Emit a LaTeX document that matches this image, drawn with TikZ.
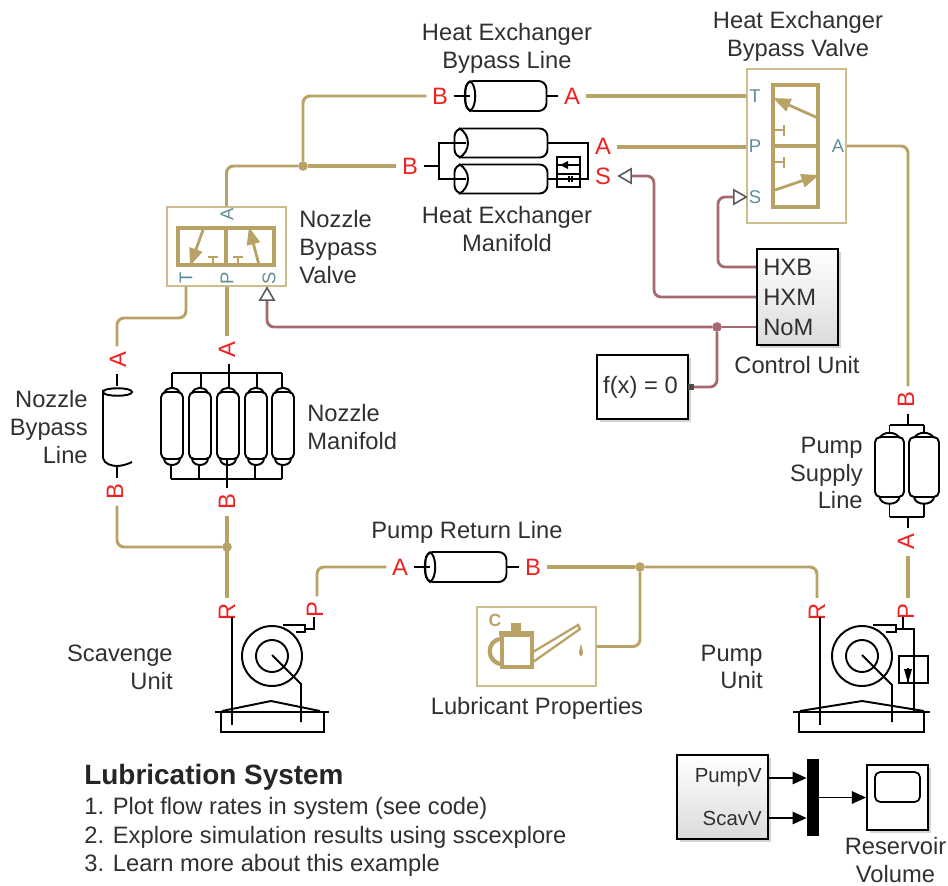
\documentclass[tikz,border=0pt]{standalone}
\usepackage{fontspec}
\setmainfont{Liberation Sans}
\usetikzlibrary{arrows.meta,shapes.geometric,shadows,calc}
\definecolor{oilgold}{HTML}{B8A265}
\definecolor{boxgold}{HTML}{CDBD8C}
\definecolor{sigred}{HTML}{A5696F}
\definecolor{portred}{HTML}{EE2222}
\definecolor{portteal}{HTML}{5F8E98}
\definecolor{txtgray}{HTML}{303030}
\newcommand{\lblfont}{\fontsize{13.5}{15.8}\selectfont}
\tikzset{
  oil/.style={draw=oilgold, line width=1.7pt, rounded corners=4pt},
  oilstr/.style={draw=oilgold, line width=1.95pt},
  sig/.style={draw=sigred, line width=1.6pt, rounded corners=4pt},
  wire/.style={draw=black, line width=1.1pt},
  lbl/.style={font=\lblfont, text=txtgray, inner sep=0pt},
  port/.style={font=\lblfont, text=portred, inner sep=3pt},
  vport/.style={font=\fontsize{10.5}{12}\selectfont, text=portteal, inner sep=0pt},
  pipe/.style={wire, rounded corners=3pt, inner sep=0pt},
  hpipe/.style={wire, rounded corners=4.5pt, inner sep=0pt},
  vbox/.style={draw=boxgold, line width=1pt, inner sep=0pt},
  vline/.style={draw=oilgold, line width=1.95pt},
  vstop/.style={draw=oilgold, line width=1.3pt},
  vhead/.style={draw=oilgold, line width=1.6pt, -{Triangle[length=10pt,width=7.5pt]}},
  sbox/.style={draw=black, line width=1.1pt, inner sep=0pt, drop shadow={shadow xshift=1.5pt, shadow yshift=-1.5pt, opacity=.35}},
  grad/.style={sbox, top color=white, bottom color=black!14},
  juncg/.style={circle, fill=oilgold, minimum size=5.5pt, inner sep=0pt},
  juncs/.style={circle, fill=sigred, minimum size=5.5pt, inner sep=0pt},
  inport/.style={draw=black!65, line width=.9pt, fill=white, isosceles triangle, isosceles triangle apex angle=60, minimum height=7pt, minimum width=8pt, inner sep=0pt},
}
\begin{document}
\begin{tikzpicture}[x=0.02cm, y=-0.02cm, >={Triangle[length=8pt,width=7pt]}]
  \useasboundingbox (0,0) rectangle (948,886);
  % Heat exchanger bypass line
  \node[port] (hxbB) at (440,96) {B};
  \node[port] (hxbA) at (572,96) {A};
  \node[hpipe, minimum width=1.62cm, minimum height=0.6cm] (hxb) at (506,96) {};
  \draw[wire] (470,81) .. controls (463,85) and (463,107) .. (470,111) .. controls (477,107) and (477,85) .. (470,81);
  \draw[wire] (hxbB.east) -- (470,96);
  \draw[wire] (hxbA.west) -- (hxb.east);
  \node[lbl, align=center] (hxbText) at (507,48) {Heat Exchanger\\Bypass Line};
  % Heat exchanger manifold
  \node[port] (hxmB) at (410,166) {B};
  \node[port] (hxmA) at (603,146) {A};
  \node[port] (hxmS) at (603,176) {S};
  \node[hpipe, minimum width=1.86cm, minimum height=0.58cm] (hxm1) at (501,143) {};
  \node[hpipe, minimum width=1.86cm, minimum height=0.58cm] (hxm2) at (501,179) {};
  \foreach \yy in {143,179}
    \draw[wire] (459,\yy-15) .. controls (471,\yy-8) and (471,\yy+8) .. (459,\yy+15);
  \coordinate (hxmBus) at (439,166);
  \draw[wire] (hxmB.east) -- (hxmBus);
  \draw[wire] (466,143) -- (439,143) -- (439,179) -- (466,179);
  \draw[wire] (hxm1.east) -- (hxm1.east -| hxmA.west);
  \draw[wire] (588,143) -- (588,179) -- (hxm2.east);
  \node[draw=black, line width=1pt, fill=white, minimum width=0.46cm, minimum height=0.6cm, inner sep=0pt] (hxmVal) at (568.5,172) {};
  \draw[wire] (hxmVal.west |- 0,165) -- (hxmVal.east |- 0,165);
  \draw[wire] (hxmVal.west |- 0,174) -- (hxmVal.east |- 0,174);
  \draw[wire] (hxmVal.west |- 0,179) -- (hxmVal.east |- 0,179);
  \fill (560,165) -- (568,161) -- (568,169) -- cycle;
  \draw[black, line width=.7pt] (569,176) -- (569,182) (572,176) -- (572,182);
  \node[lbl, align=center] (hxmText) at (507,229) {Heat Exchanger\\Manifold};
  \node[inport, shape border rotate=180] (hxmIn) at (627,176) {};
  % Heat exchanger bypass valve
  \node[vbox, minimum width=1.98cm, minimum height=3.08cm] (hxv) at (796.5,146) {};
  \node[vline, draw, minimum width=0.9cm, minimum height=2.44cm, inner sep=0pt] (hxvIn) at (795.5,146) {};
  \draw[vline] (hxvIn.west) -- (hxvIn.east);
  \draw[vhead] (818,118) -- (773,98);
  \draw[vhead] (775,190) -- (819,175);
  \draw[vstop] (775,130) -- (784,130) (784,125) -- (784,136);
  \draw[vstop] (775,162) -- (784,162) (784,157) -- (784,168);
  \node[vport] (hxvT) at (755,96) {T};
  \node[vport] (hxvP) at (755,146) {P};
  \node[vport] (hxvA) at (838,146) {A};
  \node[vport] (hxvS) at (755,197) {S};
  \node[inport] (hxvSin) at (738,197) {};
  \node[lbl, align=center] (hxvText) at (798,36) {Heat Exchanger\\Bypass Valve};
  % Nozzle bypass valve
  \node[vbox, minimum width=2.38cm, minimum height=1.58cm] (nbv) at (226.5,246.5) {};
  \node[vline, draw, minimum width=1.92cm, minimum height=0.74cm, inner sep=0pt] (nbvIn) at (226,246.5) {};
  \draw[vline] (nbvIn.north) -- (nbvIn.south);
  \draw[vhead] (203,230) -- (190,266);
  \draw[vhead] (259,265) -- (249,227);
  \draw[vstop] (213,265) -- (213,257) (208,257) -- (218,257);
  \draw[vstop] (238,265) -- (238,257) (233,257) -- (243,257);
  \node[vport, rotate=90] (nbvA) at (227,214) {A};
  \node[vport, rotate=90] (nbvT) at (186,278) {T};
  \node[vport, rotate=90] (nbvP) at (227,278) {P};
  \node[vport, rotate=90] (nbvS) at (269,278) {S};
  \node[inport, shape border rotate=90] (nbvSin) at (267,296) {};
  \node[lbl, align=left, anchor=west] (nbvText) at (299,247) {Nozzle\\Bypass\\Valve};
  % Nozzle bypass line
  \node[port, rotate=90] (nblA) at (118,360) {A};
  \node[port, rotate=90] (nblB) at (115,492) {B};
  \coordinate (nblTop) at (117,386);
  \coordinate (nblBot) at (117,466);
  \draw[wire] (nblA.west -| nblTop) -- (nblTop);
  \draw[wire] (nblB.east -| nblBot) -- (nblBot);
  \draw[wire] (103,392) .. controls (103,387) and (132,387) .. (132,392) .. controls (132,397) and (103,397) .. (103,392) -- (103,458) .. controls (104,464) and (112,466) .. (nblBot) .. controls (122,466) and (128,464) .. (132,462);
  \node[lbl, align=right, anchor=east] (nblText) at (88,427) {Nozzle\\Bypass\\Line};
  % Nozzle manifold
  \node[port, rotate=90] (nomA) at (227,350) {A};
  \node[port, rotate=90] (nomB) at (227,502) {B};
  \coordinate (nomTop) at (229,373);
  \coordinate (nomBot) at (227,479);
  \draw[wire] (nomA.west -| nomTop) -- (229,388);
  \draw[wire] (nomB.east) -- (227,460);
  \draw[wire] (172,373) -- (282,373);
  \draw[wire] (171,479) -- (282,479);
  \foreach \i/\xc/\xt/\xb in {1/172/172/171, 2/200/201/199, 3/228/229/227, 4/256/257/255, 5/283/282/282} {
    \node[pipe, minimum width=0.44cm, minimum height=1.34cm] (nom\i) at (\xc,425.5) {};
    \draw[wire] (\xc-8,393) .. controls (\xc-5,386) and (\xc+5,386) .. (\xc+8,393);
    \draw[wire] (\xt,373) -- (\xt,388);
    \draw[wire] (\xb,464) -- (\xb,479);
    \draw[wire] (\xc-8,459) .. controls (\xc-7,467) and (\xc+7,467) .. (\xc+8,459);
  }
  \node[lbl, align=left, anchor=west] (nomText) at (307,427) {Nozzle\\Manifold};
  % Pump return line
  \node[port] (prlA) at (400,567) {A};
  \node[port] (prlB) at (533,567) {B};
  \node[hpipe, minimum width=1.62cm, minimum height=0.6cm] (prl) at (466,567) {};
  \draw[wire] (430,552) .. controls (423,556) and (423,578) .. (430,582) .. controls (437,578) and (437,556) .. (430,552);
  \draw[wire] (prlA.east) -- (430,567);
  \draw[wire] (prlB.west) -- (prl.east);
  \node[lbl] (prlText) at (467,532) {Pump Return Line};
  % Scavenge unit
  \node[port, rotate=90] (scvR) at (227,612) {R};
  \node[port, rotate=90] (scvP) at (315,610) {P};
  \node[draw=black, line width=1.1pt, circle, minimum size=1.2cm, inner sep=0pt] (scvC) at (272,656) {};
  \node[draw=black, line width=1.1pt, circle, minimum size=0.64cm, inner sep=0pt] (scvI) at (272,656) {};
  \draw[wire] (232,617) -- (232,725);
  \draw[wire] (283,625) -- (305,625) -- (305,632) -- (296,632);
  \draw[wire] (305,629) -- (314,629) -- (314,617);
  \draw[wire] (272,655) -- (301,684) -- (301,722);
  \draw[wire] (215,712) -- (329,712);
  \draw[wire] (222,711) -- (271,701) -- (320,711);
  \draw[wire] (221,712) -- (221,732) -- (324,732) -- (324,712);
  \node[lbl, align=right, anchor=east] (scvText) at (173,667) {Scavenge\\Unit};
  % Pump unit
  \node[port, rotate=90] (pmpR) at (817,612) {R};
  \node[port, rotate=90] (pmpP) at (906,612) {P};
  \node[draw=black, line width=1.1pt, circle, minimum size=1.2cm, inner sep=0pt] (pmpC) at (862,656) {};
  \node[draw=black, line width=1.1pt, circle, minimum size=0.64cm, inner sep=0pt] (pmpI) at (862,656) {};
  \draw[wire] (820,617) -- (820,725);
  \draw[wire] (873,625) -- (896,625) -- (896,632) -- (886,632);
  \draw[wire] (896,629) -- (914,629) -- (914,712);
  \draw[wire] (903,629) -- (903,617);
  \draw[wire] (862,655) -- (892,685) -- (892,722);
  \node[draw=black, line width=1.1pt, fill=none, minimum width=0.58cm, minimum height=0.54cm, inner sep=0pt] (pmpVal) at (913.5,669.5) {};
  \draw[wire] (908,668) -- (908,683);
  \fill (904,669) -- (912,669) -- (908,683) -- cycle;
  \draw[wire] (793,712) -- (930,712);
  \draw[wire] (800,711) -- (862,701) -- (924,711);
  \draw[wire] (799,712) -- (799,732) -- (924,732) -- (924,712);
  \node[lbl, align=right, anchor=east] (pmpText) at (763,667) {Pump\\Unit};
  % Pump supply line
  \node[port, rotate=90] (pslB) at (906,400) {B};
  \node[port, rotate=90] (pslA) at (906,542) {A};
  \node[pipe, minimum width=0.58cm, minimum height=1.2cm] (psl1) at (889.5,467) {};
  \node[pipe, minimum width=0.6cm, minimum height=1.2cm] (psl2) at (924,467) {};
  \foreach \xc in {889.5,924} {
    \draw[wire] (\xc-10,438) .. controls (\xc-6,431) and (\xc+6,431) .. (\xc+10,438);
    \draw[wire] (\xc-10,497) .. controls (\xc-9,506) and (\xc+9,506) .. (\xc+10,497);
    \draw[wire] (\xc,425) -- (\xc,433);
    \draw[wire] (\xc,504) -- (\xc,517);
  }
  \draw[wire] (889.5,425) -- (924,425) (889.5,517) -- (924,517);
  \draw[wire] (pslB.west -| 908,0) -- (908,425);
  \draw[wire] (pslA.east -| 908,0) -- (908,517);
  \node[lbl, align=right, anchor=east] (pslText) at (863,473) {Pump\\Supply\\Line};
  % Lubricant properties
  \node[vbox, minimum width=2.38cm, minimum height=1.58cm] (lub) at (536.5,646.5) {};
  \node[font=\fontsize{10}{12}\bfseries\selectfont, text=oilgold, inner sep=0pt] (lubC) at (495,620) {C};
  \node[vline, draw, fill=none, minimum width=0.6cm, minimum height=0.64cm, inner sep=0pt] (lubCan) at (517,651) {};
  \fill[oilgold] (499,631) rectangle (534,636) (511,623) rectangle (521,631);
  \draw[vline, line width=2.4pt] (501,639) .. controls (486,640) and (486,662) .. (501,664);
  \draw[vstop] (533,652) -- (578,625) -- (580,629) -- (533,662);
  \fill[oilgold] (581,644) .. controls (579,650) and (578,656) .. (581,656) .. controls (584,656) and (583,650) .. (581,644);
  \node[lbl] (lubText) at (537,708) {Lubricant Properties};
  % Control unit
  \node[grad, minimum width=1.62cm, minimum height=1.92cm] (ctl) at (797.5,297) {};
  \node[lbl, anchor=west] (ctlX) at (763,267) {HXB};
  \node[lbl, anchor=west] (ctlM) at (763,297) {HXM};
  \node[lbl, anchor=west] (ctlN) at (763,327) {NoM};
  \node[lbl] (ctlText) at (797,365) {Control Unit};
  \node[sbox, fill=white, minimum width=1.82cm, minimum height=1.28cm, font=\lblfont, text=txtgray] (fx) at (642.5,387) {\kern-2.3pt f(x) = 0};
  \node[fill=black!70, minimum size=3pt, inner sep=0pt] (fxOut) at (691,387) {};
  \node[juncs] (jSig) at (717,327) {};
  % Oil lines
  \node[juncg] (jHx) at (303,166) {};
  \node[juncg] (jScv) at (227,547) {};
  \node[juncg] (jLub) at (640,567) {};
  \draw[oil] (hxbB.west) -| (jHx);
  \draw[oilstr] (jHx) -- (hxmB.west);
  \draw[oil] (jHx) -| (nbv.north);
  \draw[oilstr] (hxbA.east) -- (hxv.west |- hxvT);
  \draw[oilstr] (hxmA.east |- 0,147) -- (hxv.west |- 0,147);
  \draw[oil] (hxv.east |- hxvA) -| (pslB.east -| 908,0);
  \draw[oil] (nbvT |- nbv.south) |- (117,318) -- (nblA.east -| 117,0);
  \draw[oilstr] (nbvP |- nbv.south) -- (nomA.east);
  \draw[oil] (nblB.west -| 117,0) |- (jScv);
  \draw[oilstr] (nomB.west) -- (scvR.east);
  \draw[oil] (scvP.east -| 317,0) |- (prlA.west);
  \draw[oilstr] (prlB.east) -- (jLub);
  \draw[oil] (jLub) -| (pmpR.east);
  \draw[oil] (jLub) |- (lub.east);
  \draw[oilstr] (pslA.west -| 908,0) -- (pmpP.east -| 908,0);
  % Signal lines
  \draw[sig] (ctl.west |- ctlN) -- (jSig);
  \draw[sig] (jSig) -| (nbvSin.south);
  \draw[sig] (fxOut) -| (jSig);
  \draw[sig] (ctl.west |- ctlM) -| (654,176) -- (hxmIn.east);
  \draw[sig] (ctl.west |- ctlX) -| (718,197) -- (hxvSin.west);
  % Reservoir scope
  \node[grad, minimum width=1.82cm, minimum height=1.68cm] (res) at (722.5,797) {};
  \node[font=\fontsize{11.6}{14}\selectfont, text=txtgray, inner sep=0pt, anchor=east] (resP) at (762,778) {PumpV};
  \node[font=\fontsize{11.6}{14}\selectfont, text=txtgray, inner sep=0pt, anchor=east] (resS) at (762,818) {ScavV};
  \node[fill=black, minimum width=0.24cm, minimum height=1.54cm, inner sep=0pt] (mux) at (813,797.5) {};
  \node[sbox, fill=white, minimum width=1.22cm, minimum height=1.3cm] (scope) at (897.5,797.5) {};
  \node[draw=black, line width=1pt, rounded corners=3pt, minimum width=0.9cm, minimum height=0.6cm, inner sep=0pt] (scopeScr) at (897.5,787) {};
  \draw[->, line width=1pt] (res.east |- resP) -- (mux.west |- resP);
  \draw[->, line width=1pt] (res.east |- resS) -- (mux.west |- resS);
  \draw[->, line width=1pt] (mux.east |- scope.west) -- (scope.west);
  \node[lbl, align=center] (scopeText) at (895.5,860) {Reservoir\\Volume};
  % Title and notes
  \node[font=\fontsize{15.9}{18}\bfseries\selectfont, text=black!85, inner sep=0pt, anchor=west] (title) at (84,777) {Lubrication System};
  \node[lbl, anchor=west] (note1) at (84,808) {1. Plot flow rates in system (see code)};
  \node[lbl, anchor=west] (note2) at (84,837) {2. Explore simulation results using sscexplore};
  \node[lbl, anchor=west] (note3) at (84,865) {3. Learn more about this example};
\end{tikzpicture}
\end{document}
